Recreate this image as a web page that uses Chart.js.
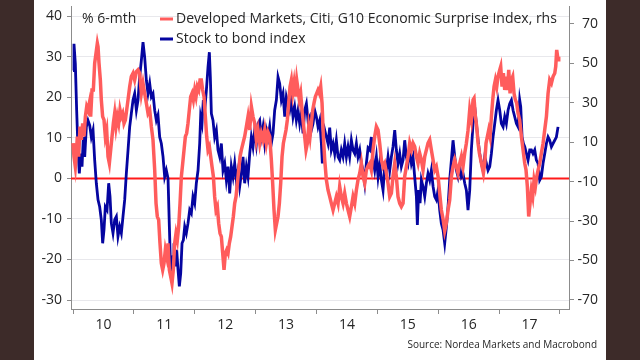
<!DOCTYPE html>
<html><head><meta charset="utf-8">
<script src="https://cdn.jsdelivr.net/npm/chart.js@4/dist/chart.umd.min.js"></script>
<style>
html,body{margin:0;padding:0;background:#3d2b29;width:640px;height:360px;overflow:hidden}
#wrap{position:absolute;left:34px;top:0;width:572px;height:360px;background:#fff}
canvas{display:block}
</style></head><body>
<div id="wrap"><canvas id="c" width="572" height="360"></canvas></div>
<script>
// ---- data ----
const yearTicks = [2010, 2011, 2012, 2013, 2014, 2015, 2016, 2017, 2018];
const yearLabels = ['10', '11', '12', '13', '14', '15', '16', '17'];
const leftTicks = [-30, -20, -10, 0, 10, 20, 30, 40];
const rightTicks = [-70, -50, -30, -10, 10, 30, 50, 70];
const seriesNames = ['Developed Markets, Citi, G10 Economic Surprise Index, rhs', 'Stock to bond index'];
const unitLabel = '% 6-mth';
const sourceText = 'Source: Nordea Markets and Macrobond';

const blueDates = [2010.000,2010.016,2010.038,2010.060,2010.082,2010.104,2010.126,2010.148,2010.170,2010.192,2010.219,2010.246,2010.274,2010.301,2010.329,2010.356,2010.383,2010.411,2010.438,2010.465,2010.487,2010.509,2010.531,2010.559,2010.586,2010.608,2010.630,2010.657,2010.685,2010.712,2010.739,2010.767,2010.794,2010.821,2010.849,2010.876,2010.904,2010.931,2010.958,2010.986,
2011.013,2011.041,2011.068,2011.095,2011.123,2011.150,2011.177,2011.205,2011.232,2011.260,2011.287,2011.314,2011.342,2011.369,2011.396,2011.424,2011.451,2011.479,2011.506,2011.533,2011.561,2011.583,2011.605,2011.626,2011.643,2011.659,2011.681,2011.703,2011.725,2011.747,2011.769,2011.791,2011.813,2011.835,2011.862,2011.889,2011.917,2011.944,2011.971,2011.999,
2012.026,2012.054,2012.081,2012.097,2012.119,2012.141,2012.163,2012.191,2012.218,2012.240,2012.256,2012.273,2012.300,2012.327,2012.355,2012.382,2012.410,2012.437,2012.464,2012.492,2012.519,2012.547,2012.574,2012.601,2012.629,2012.656,2012.683,2012.711,2012.738,2012.766,2012.793,2012.820,2012.848,2012.875,2012.903,2012.930,2012.957,2012.985,
2013.012,2013.039,2013.067,2013.094,2013.122,2013.149,2013.176,2013.204,2013.231,2013.258,2013.286,2013.313,2013.341,2013.368,2013.395,2013.423,2013.450,2013.478,2013.505,2013.532,2013.560,2013.587,2013.614,2013.642,2013.669,2013.697,2013.724,2013.751,2013.779,2013.806,2013.834,2013.861,2013.888,2013.916,2013.943,2013.970,2013.998,
2014.025,2014.053,2014.080,2014.096,2014.118,2014.135,2014.162,2014.189,2014.217,2014.244,2014.272,2014.299,2014.326,2014.354,2014.381,2014.408,2014.436,2014.463,2014.491,2014.518,2014.545,2014.573,2014.600,2014.628,2014.655,2014.682,2014.710,2014.737,2014.764,2014.792,2014.819,2014.847,2014.874,2014.901,2014.929,2014.956,2014.984,
2015.011,2015.038,2015.066,2015.093,2015.120,2015.148,2015.175,2015.203,2015.230,2015.257,2015.285,2015.312,2015.339,2015.367,2015.394,2015.422,2015.449,2015.476,2015.504,2015.531,2015.559,2015.586,2015.613,2015.641,2015.657,2015.679,2015.701,2015.723,2015.750,2015.778,2015.805,2015.832,2015.860,2015.887,2015.915,2015.942,2015.969,2015.997,
2016.024,2016.051,2016.079,2016.106,2016.134,2016.161,2016.188,2016.216,2016.243,2016.271,2016.298,2016.325,2016.353,2016.380,2016.407,2016.435,2016.462,2016.489,2016.517,2016.544,2016.572,2016.599,2016.626,2016.654,2016.681,2016.709,2016.736,2016.763,2016.791,2016.818,2016.846,2016.873,2016.900,2016.928,2016.955,2016.982,
2017.010,2017.037,2017.065,2017.092,2017.119,2017.147,2017.174,2017.202,2017.229,2017.256,2017.284,2017.311,2017.338,2017.355,2017.377,2017.399,2017.421,2017.448,2017.475,2017.503,2017.530,2017.557,2017.585,2017.612,2017.640,2017.667,2017.694,2017.722,2017.749,2017.777,2017.804,2017.831,2017.859,2017.886,2017.914,2017.941,2017.968];
const blueValues = [26.6,33.2,28.3,16.8,7.0,1.2,6.1,2.9,10.2,5.3,12.7,14.3,13.1,10.2,11.9,4.5,-1.2,-5.3,-7.0,-10.2,-16.0,-12.7,-7.0,-7.8,-1.2,-4.5,-11.1,-13.5,-10.2,-9.4,-14.3,-11.9,-13.5,-9.4,-5.3,1.2,7.0,12.7,16.0,19.3,
20.9,16.8,19.3,25.0,29.1,33.6,29.9,24.2,20.9,23.4,20.1,20.9,16.8,14.3,15.6,10.2,8.6,5.3,0.4,2.0,0.0,-11.9,-23.4,-24.2,-19.3,-16.0,-21.7,-17.6,-22.5,-26.6,-23.4,-16.0,-15.2,-11.9,-13.5,-11.1,-7.8,-8.6,-4.5,-6.1,
-1.2,2.0,8.6,15.2,13.5,19.3,16.8,21.7,27.5,31.1,25.0,16.0,14.3,10.2,11.9,7.0,5.3,8.6,2.0,3.7,-0.4,2.9,-3.7,2.9,0.4,3.7,-0.4,2.0,-2.0,1.2,5.3,-1.2,2.9,0.4,6.1,10.2,7.8,11.9,
8.6,13.5,14.3,10.2,12.7,8.6,11.9,10.0,12.7,8.6,11.1,16.8,19.3,25.0,23.4,19.3,20.9,15.2,20.1,18.4,16.8,19.3,15.2,17.6,14.3,16.8,13.5,16.0,11.1,16.8,18.4,14.3,15.2,11.9,13.5,16.8,15.2,
12.7,14.3,8.6,3.7,10.2,11.9,10.2,8.6,12.5,7.0,8.6,6.1,9.4,5.3,4.5,7.0,5.3,8.6,5.3,7.8,5.3,9.4,7.0,6.1,8.6,5.3,7.0,3.7,2.0,-1.2,3.7,7.5,7.0,10.2,4.5,2.0,5.3,
0.4,3.7,-0.4,-2.9,2.9,2.0,5.3,2.0,5.3,7.8,11.9,7.0,3.7,6.1,2.9,4.5,9.4,5.3,3.7,7.0,3.7,5.3,0.4,-4.5,-11.5,-2.9,-6.1,-0.4,-2.0,-4.5,-1.2,1.2,-0.4,2.0,-2.0,-4.5,-5.3,-2.9,
-7.8,-11.1,-12.7,-16.0,-11.9,-7.0,-0.4,4.5,9.4,5.3,2.0,0.4,2.9,0.4,1.2,-1.2,-2.9,-7.8,-2.9,7.0,13.5,17.6,13.5,9.4,6.1,3.7,2.0,5.3,3.7,2.0,2.9,6.1,10.2,13.5,16.8,19.3,
16.8,13.5,12.7,15.2,13.5,16.8,18.4,19.3,16.8,15.2,13.5,12.7,19.3,17.6,10.2,8.6,7.8,6.1,4.5,7.0,7.0,6.1,7.0,4.5,3.7,-0.4,0.4,3.7,6.1,8.6,10.2,9.4,7.8,8.6,9.4,10.2,12.7];

const redDates = [2010.000,2010.016,2010.038,2010.055,2010.071,2010.093,2010.115,2010.137,2010.159,2010.181,2010.203,2010.225,2010.246,2010.268,2010.290,2010.312,2010.334,2010.356,2010.378,2010.400,2010.411,2010.427,2010.449,2010.465,2010.487,2010.509,2010.531,2010.553,2010.575,2010.597,2010.619,2010.641,2010.663,2010.685,2010.706,2010.728,2010.750,2010.772,2010.794,2010.816,2010.838,2010.860,2010.882,2010.904,2010.931,2010.958,2010.986,
2011.013,2011.041,2011.068,2011.095,2011.123,2011.150,2011.177,2011.205,2011.232,2011.260,2011.287,2011.314,2011.342,2011.364,2011.385,2011.407,2011.429,2011.451,2011.473,2011.495,2011.517,2011.539,2011.561,2011.583,2011.605,2011.626,2011.648,2011.670,2011.692,2011.714,2011.736,2011.758,2011.780,2011.802,2011.824,2011.846,2011.867,2011.889,2011.911,2011.933,2011.955,2011.977,2011.999,
2012.021,2012.043,2012.065,2012.087,2012.108,2012.130,2012.152,2012.174,2012.196,2012.218,2012.240,2012.262,2012.284,2012.306,2012.327,2012.349,2012.371,2012.393,2012.415,2012.437,2012.459,2012.481,2012.503,2012.525,2012.547,2012.568,2012.590,2012.612,2012.634,2012.656,2012.678,2012.700,2012.722,2012.744,2012.766,2012.793,2012.820,2012.848,2012.875,2012.903,2012.930,2012.957,2012.985,
2013.012,2013.039,2013.067,2013.094,2013.122,2013.149,2013.176,2013.204,2013.231,2013.258,2013.280,2013.302,2013.324,2013.346,2013.368,2013.390,2013.412,2013.434,2013.456,2013.478,2013.499,2013.521,2013.543,2013.565,2013.587,2013.609,2013.631,2013.653,2013.675,2013.697,2013.718,2013.740,2013.762,2013.784,2013.806,2013.828,2013.850,2013.872,2013.894,2013.916,2013.938,2013.959,2013.981,
2014.003,2014.025,2014.047,2014.069,2014.091,2014.113,2014.135,2014.162,2014.189,2014.217,2014.244,2014.272,2014.299,2014.326,2014.354,2014.381,2014.408,2014.436,2014.463,2014.491,2014.518,2014.545,2014.573,2014.600,2014.628,2014.655,2014.682,2014.710,2014.737,2014.764,2014.792,2014.819,2014.847,2014.874,2014.901,2014.929,2014.956,2014.984,
2015.011,2015.038,2015.066,2015.093,2015.120,2015.148,2015.175,2015.203,2015.230,2015.257,2015.285,2015.312,2015.339,2015.367,2015.394,2015.422,2015.449,2015.476,2015.504,2015.531,2015.559,2015.586,2015.613,2015.641,2015.668,2015.695,2015.723,2015.750,2015.778,2015.805,2015.832,2015.860,2015.887,2015.915,2015.942,2015.969,2015.997,
2016.024,2016.051,2016.079,2016.106,2016.134,2016.161,2016.188,2016.216,2016.243,2016.271,2016.298,2016.325,2016.353,2016.380,2016.407,2016.435,2016.462,2016.489,2016.517,2016.544,2016.572,2016.588,2016.610,2016.632,2016.654,2016.676,2016.698,2016.720,2016.742,2016.763,2016.785,2016.807,2016.829,2016.851,2016.873,2016.895,2016.917,2016.939,2016.961,2016.982,
2017.010,2017.026,2017.048,2017.070,2017.092,2017.114,2017.136,2017.158,2017.180,2017.202,2017.223,2017.245,2017.267,2017.289,2017.311,2017.338,2017.366,2017.393,2017.421,2017.442,2017.464,2017.486,2017.508,2017.530,2017.552,2017.574,2017.596,2017.618,2017.640,2017.667,2017.694,2017.722,2017.749,2017.777,2017.804,2017.831,2017.859,2017.886,2017.914,2017.930,2017.946,2017.968,2017.979];
const redValues = [9.5,2.7,-2.4,4.4,12.9,2.7,17.9,11.2,19.6,12.9,23.0,28.1,26.4,29.8,23.0,36.5,36.5,50.1,55.1,60.2,58.5,50.1,41.6,31.5,23.0,21.3,12.9,16.2,2.7,-0.7,6.1,12.9,19.6,24.7,17.9,23.0,19.6,26.4,23.0,24.7,19.6,21.3,26.4,31.5,38.2,43.3,45.0,
41.6,45.8,46.7,45.0,34.8,39.9,34.8,29.8,24.7,26.4,17.9,11.2,-4.1,-21.0,-27.7,-29.4,-41.3,-51.4,-54.8,-51.4,-44.6,-48.0,-41.3,-54.8,-58.2,-61.6,-54.8,-41.3,-36.2,-39.6,-32.8,-21.0,-7.4,-0.7,6.1,12.9,14.5,19.6,26.4,33.1,34.8,31.5,36.5,
33.1,38.2,36.5,41.6,41.6,36.5,33.1,23.0,12.9,6.1,7.8,2.7,-2.4,-7.4,-17.6,-24.4,-22.7,-31.1,-36.2,-37.9,-46.3,-54.8,-46.3,-44.6,-46.3,-41.3,-37.9,-32.8,-27.7,-21.0,-17.6,-10.8,-4.1,2.7,6.1,9.5,12.9,17.9,23.0,16.2,28.1,23.0,19.6,
11.2,16.2,9.5,14.5,11.2,16.2,9.5,15.0,12.9,1.0,-10.8,-24.4,-34.5,-31.1,-27.7,-21.0,-10.8,2.7,9.5,12.9,16.2,21.3,29.8,38.2,41.6,34.8,39.9,33.1,41.6,36.5,31.5,34.8,26.4,19.6,12.9,6.1,9.5,17.9,12.9,19.6,26.4,29.8,33.1,
34.8,36.5,34.8,38.2,29.8,12.9,1.0,-9.1,-14.2,-17.6,-21.0,-24.4,-21.0,-17.6,-21.0,-12.5,-17.6,-21.0,-15.9,-21.0,-24.4,-27.7,-22.7,-17.6,-21.0,-14.2,-9.1,-5.7,-0.7,-7.4,-10.8,-4.1,-2.0,-0.7,-4.1,6.1,12.9,17.9,
16.2,9.5,1.0,-2.4,-0.7,-5.7,-10.8,-17.6,-15.9,-7.4,-0.7,-7.4,-17.6,-21.0,-22.7,-21.0,-7.4,-2.4,2.7,9.5,6.1,9.5,7.8,2.7,-0.7,4.4,1.0,-4.1,2.7,6.1,9.5,11.2,6.1,1.0,-4.1,-2.4,-7.4,
-15.9,-24.4,-29.0,-35.0,-31.0,-24.4,-19.3,-7.4,-2.4,1.0,-2.4,-5.7,-0.7,2.7,-2.4,4.4,9.5,16.0,26.4,21.3,31.5,32.3,23.0,17.9,9.5,4.4,1.0,-2.4,-5.7,-0.7,9.5,12.9,16.2,12.9,23.0,31.5,38.2,41.6,38.2,43.3,
46.7,48.4,38.2,45.0,36.5,43.3,36.5,46.7,34.8,41.6,43.3,34.8,31.5,29.8,24.7,21.3,12.9,6.1,-0.7,-4.1,-12.5,-27.7,-21.0,-14.2,-17.6,-9.1,-12.5,-7.4,-4.1,-0.7,4.4,9.5,16.2,23.0,34.8,41.6,39.9,43.3,45.0,48.4,56.8,51.8,53.4];

// ---- chart ----
const FONT = '"Open Sans", "Noto Sans", sans-serif';
const TEXT = '#262626';
const AXIS = '#8c8c8c';
const RED = '#ff5c5c';
const BLUE = '#0505a0';
const labelMids = yearLabels.map((_, i) => yearTicks[i] + 0.5);

const zeroLine = {
  id: 'zeroLine',
  beforeDatasetsDraw(chart) {
    const {ctx, chartArea} = chart;
    const y = chart.scales.y.getPixelForValue(0);
    ctx.save();
    ctx.strokeStyle = '#ff1a1a';
    ctx.lineWidth = 2;
    ctx.beginPath();
    ctx.moveTo(chartArea.left, y);
    ctx.lineTo(chartArea.right, y);
    ctx.stroke();
    ctx.restore();
  }
};

const texts = {
  id: 'texts',
  afterDraw(chart) {
    const ctx = chart.ctx;
    ctx.save();
    ctx.font = '14px ' + FONT;
    ctx.fillStyle = TEXT;
    ctx.textBaseline = 'middle';
    ctx.textAlign = 'left';
    ctx.fillText(unitLabel, 48, 19);
    const rows = [19, 39];
    chart.data.datasets.forEach((ds, i) => {
      const y = rows[i];
      ctx.strokeStyle = ds.borderColor;
      ctx.lineWidth = 3;
      ctx.beginPath();
      ctx.moveTo(126, y);
      ctx.lineTo(139, y);
      ctx.stroke();
      ctx.fillStyle = TEXT;
      ctx.fillText(ds.label, 142, y);
    });
    ctx.font = '10px ' + FONT;
    ctx.textAlign = 'right';
    ctx.fillStyle = TEXT;
    ctx.fillText(sourceText, 563, 345);
    ctx.restore();
  }
};

function zeroPad(scale) {
  scale.paddingTop = 0; scale.paddingBottom = 0;
  scale.paddingLeft = 0; scale.paddingRight = 0;
}

new Chart(document.getElementById('c'), {
  type: 'line',
  data: {
    datasets: [
      {
        label: seriesNames[0],
        data: redDates.map((d, i) => ({x: d, y: redValues[i]})),
        yAxisID: 'y2',
        borderColor: RED,
        borderWidth: 3.5,
        pointRadius: 0,
        tension: 0,
        order: 1
      },
      {
        label: seriesNames[1],
        data: blueDates.map((d, i) => ({x: d, y: blueValues[i]})),
        yAxisID: 'y',
        borderColor: BLUE,
        borderWidth: 2.8,
        pointRadius: 0,
        tension: 0,
        order: 2
      }
    ]
  },
  options: {
    responsive: false,
    animation: false,
    layout: {padding: {top: 6, right: 8, left: 0, bottom: 0}},
    plugins: {legend: {display: false}, tooltip: {enabled: false}},
    scales: {
      x: {
        type: 'linear',
        min: 2009.967,
        max: 2018.148,
        afterBuildTicks(scale) {
          const t = [];
          yearTicks.forEach(v => t.push({value: v}));
          labelMids.forEach(v => t.push({value: v}));
          t.sort((a, b) => a.value - b.value);
          scale.ticks = t;
        },
        afterFit(scale) { scale.height = 51; zeroPad(scale); },
        ticks: {
          autoSkip: false,
          maxRotation: 0,
          padding: 3,
          color: TEXT,
          font: {family: FONT, size: 14},
          callback(v) {
            const i = labelMids.indexOf(v);
            return i >= 0 ? yearLabels[i] : '';
          }
        },
        grid: {
          drawOnChartArea: false,
          drawTicks: true,
          tickLength: 5,
          tickColor: (c) => (c.tick && Number.isInteger(c.tick.value)) ? AXIS : 'rgba(0,0,0,0)'
        },
        border: {display: true, color: AXIS, width: 1}
      },
      y: {
        position: 'left',
        min: -32.2,
        max: 42.5,
        afterBuildTicks(scale) { scale.ticks = leftTicks.map(v => ({value: v})); },
        afterFit(scale) { scale.width = 37; zeroPad(scale); },
        ticks: {color: TEXT, font: {family: FONT, size: 14}, padding: 5},
        grid: {color: '#e8e8ec', tickColor: AXIS, tickLength: 4, lineWidth: 1},
        border: {display: true, color: AXIS, width: 1}
      },
      y2: {
        position: 'right',
        min: -74.6,
        max: 79.1,
        afterBuildTicks(scale) { scale.ticks = rightTicks.map(v => ({value: v})); },
        afterFit(scale) { scale.width = 29; zeroPad(scale); },
        ticks: {color: TEXT, font: {family: FONT, size: 14}, padding: 4, crossAlign: 'far'},
        grid: {drawOnChartArea: false, tickColor: AXIS, tickLength: 5},
        border: {display: true, color: AXIS, width: 1}
      }
    }
  },
  plugins: [zeroLine, texts]
});
</script>
</body></html>
